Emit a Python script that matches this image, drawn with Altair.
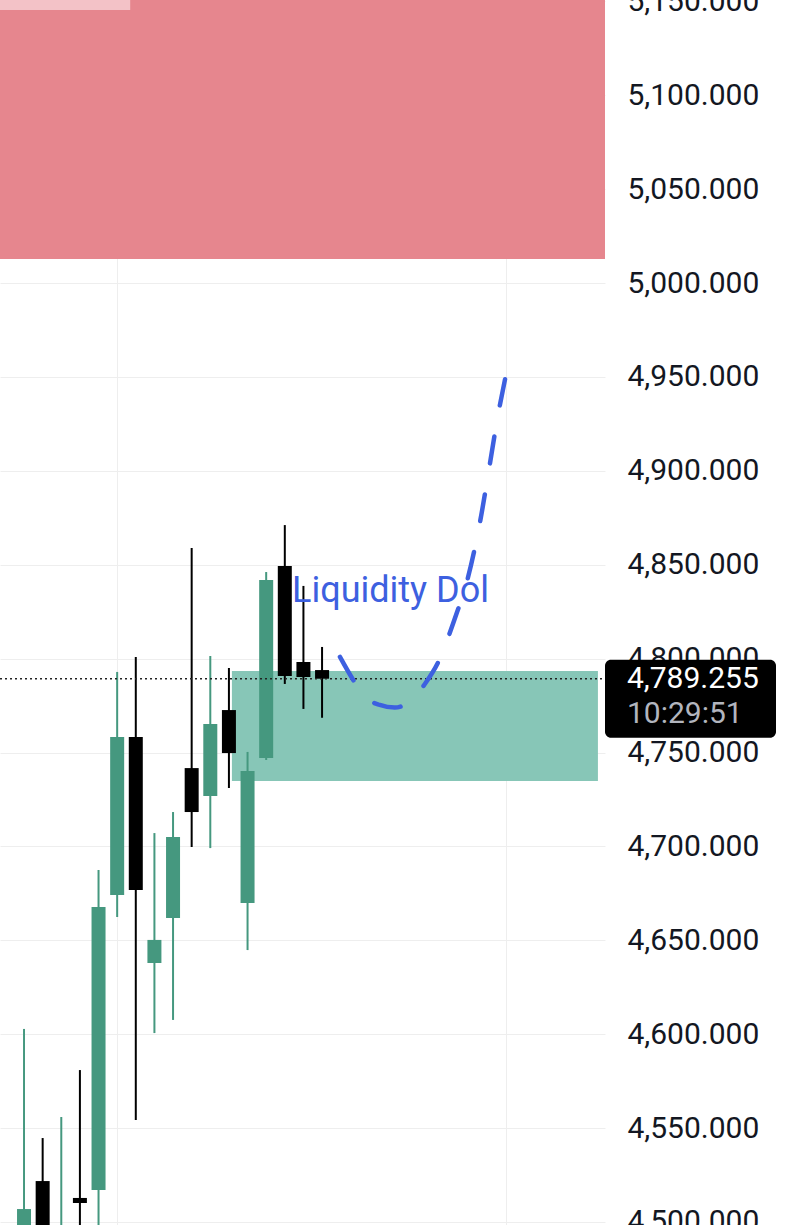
import altair as alt
import pandas as pd

# ---- data ----
idx = list(range(17))
opens  = [4488.0, 4521.8, 4470.0, 4512.8, 4517.0, 4674.1, 4758.3, 4637.9, 4661.9,
          4741.7, 4726.8, 4772.6, 4669.9, 4747.1, 4849.3, 4798.2, 4793.9]
highs  = [4602.8, 4544.7, 4555.9, 4580.9, 4687.4, 4792.9, 4800.9, 4707.1, 4718.3,
          4858.9, 4801.4, 4795.0, 4750.3, 4846.1, 4871.1, 4838.7, 4806.2]
lows   = [4478.0, 4470.0, 4462.0, 4475.0, 4485.0, 4662.4, 4554.3, 4600.6, 4607.6,
          4699.7, 4699.1, 4731.1, 4644.8, 4746.0, 4786.5, 4773.2, 4768.5]
closes = [4506.9, 4488.0, 4494.0, 4510.1, 4667.7, 4758.3, 4676.8, 4650.2, 4705.0,
          4718.3, 4765.2, 4749.7, 4740.1, 4841.9, 4790.7, 4790.2, 4789.3]

# zones (x in bar index units, y in price)
red_zone = {"x": -1.3, "x2": 31.2, "y": 5012.8, "y2": 5160.0}
red_tag = {"x": -1.3, "x2": 5.7, "y": 5145.4, "y2": 5160.0}
green_zone = {"x": 11.16, "x2": 30.81, "y": 4734.8, "y2": 4793.4}

# hand-drawn projection path
path_x = [16.96, 17.6, 18.3, 19.1, 19.9, 20.7, 21.5, 22.3, 23.1, 23.8, 24.5, 25.0, 25.4, 25.85]
path_y = [4800.9, 4789.8, 4779.6, 4775.3, 4773.9, 4777.1, 4786.2, 4799.4, 4820.6,
          4841.9, 4873.8, 4903.1, 4927.1, 4950.0]

label_text = "Liquidity Dol"
label_x, label_y = 14.39, 4830.1

last_price = 4789.255
last_price_label = "4,789.255"
countdown_label = "10:29:51"

y_ticks = list(range(4500, 5151, 50))
x_grid = [5, 25.9]

X_DOMAIN = [-1.29, 31.19]
Y_DOMAIN = [4498.4, 5150.7]

GREEN = "#45987f"
RED_ZONE = "#e5828a"
GREEN_ZONE = "#87c6b7"
BLUE = "#3d60e0"

candles = pd.DataFrame({"i": idx, "open": opens, "high": highs, "low": lows, "close": closes})
candles["dir"] = ["up" if c >= o else "down" for o, c in zip(opens, closes)]

xs = alt.Scale(domain=X_DOMAIN, nice=False, zero=False, padding=0)
ys = alt.Scale(domain=Y_DOMAIN, nice=False, zero=False, padding=0)
col = alt.Color("dir:N", scale=alt.Scale(domain=["up", "down"], range=[GREEN, "#000000"]), legend=None)

xaxis = alt.Axis(values=x_grid, labels=False, ticks=False, domain=False, title=None,
                 grid=True, gridColor="#eeeeee", gridWidth=1)
yaxis = alt.Axis(orient="right", values=y_ticks, format=",.3f", title=None, ticks=False,
                 domain=False, grid=True, gridColor="#eeeeee", gridWidth=1,
                 labelFont="Roboto", labelFontSize=30, labelColor="#131722",
                 labelPadding=22, labelBound=False, labelOverlap=False, labelFlush=False)

base_df = pd.DataFrame({"i": [0.0], "p": [4800.0]})
grid = alt.Chart(base_df).mark_point(opacity=0).encode(
    x=alt.X("i:Q", scale=xs, axis=xaxis),
    y=alt.Y("p:Q", scale=ys, axis=yaxis),
)

def zone(d, color, opacity=1.0):
    return alt.Chart(pd.DataFrame([d])).mark_rect(color=color, opacity=opacity, clip=True).encode(
        x=alt.X("x:Q", scale=xs), x2="x2:Q",
        y=alt.Y("y:Q", scale=ys), y2="y2:Q")

red = zone(red_zone, RED_ZONE, 0.97)
tag = zone(red_tag, "#f3c2c7")
greenz = zone(green_zone, GREEN_ZONE)

wicks = alt.Chart(candles).mark_rule(strokeWidth=2).encode(
    x=alt.X("i:Q", scale=xs), y=alt.Y("low:Q", scale=ys), y2="high:Q", color=col)
bodies = alt.Chart(candles).mark_bar(size=14).encode(
    x=alt.X("i:Q", scale=xs), y=alt.Y("open:Q", scale=ys), y2="close:Q", color=col)

dotted = alt.Chart(pd.DataFrame({"p": [last_price]})).mark_rule(
    color="#222222", strokeWidth=1.5, strokeDash=[2, 3]).encode(
    y=alt.Y("p:Q", scale=ys), x=alt.value(0), x2=alt.value(605))

path_df = pd.DataFrame({"x": path_x, "y": path_y, "o": list(range(len(path_x)))})
curve = alt.Chart(path_df).mark_line(
    color=BLUE, strokeWidth=4.5, strokeDash=[27, 31.5], strokeCap="round",
    interpolate="monotone").encode(
    x=alt.X("x:Q", scale=xs), y=alt.Y("y:Q", scale=ys), order="o:Q")

label = alt.Chart(pd.DataFrame({"x": [label_x], "y": [label_y], "t": [label_text]})).mark_text(
    align="left", baseline="alphabetic", font="Roboto", fontSize=36, color=BLUE).encode(
    x=alt.X("x:Q", scale=xs), y=alt.Y("y:Q", scale=ys), text="t:N")

pdf = pd.DataFrame({"p": [last_price], "t1": [last_price_label], "t2": [countdown_label]})
pbox = alt.Chart(pdf).mark_rect(color="#000000", cornerRadius=6, yOffset=-19, y2Offset=59).encode(
    y=alt.Y("p:Q", scale=ys), y2="p:Q", x=alt.value(605), x2=alt.value(776))
ptext = alt.Chart(pdf).mark_text(align="left", baseline="middle", font="Roboto", fontSize=30,
                                 color="#ffffff").encode(
    y=alt.Y("p:Q", scale=ys), x=alt.value(627), text="t1:N")
ctext = alt.Chart(pdf).mark_text(align="left", baseline="middle", font="Roboto", fontSize=30,
                                 color="#b2b5be", dy=35).encode(
    y=alt.Y("p:Q", scale=ys), x=alt.value(627), text="t2:N")

chart = alt.layer(grid, red, tag, greenz, wicks, bodies, dotted, curve, label, pbox, ptext, ctext).properties(
    width=605, height=1225,
    background="#ffffff",
    autosize=alt.AutoSizeParams(type="none"),
    padding={"left": 0, "top": 0, "right": 184, "bottom": 0},
).configure_view(stroke=None)

chart.save("out.html", embed_options={"renderer": "svg", "actions": False})
